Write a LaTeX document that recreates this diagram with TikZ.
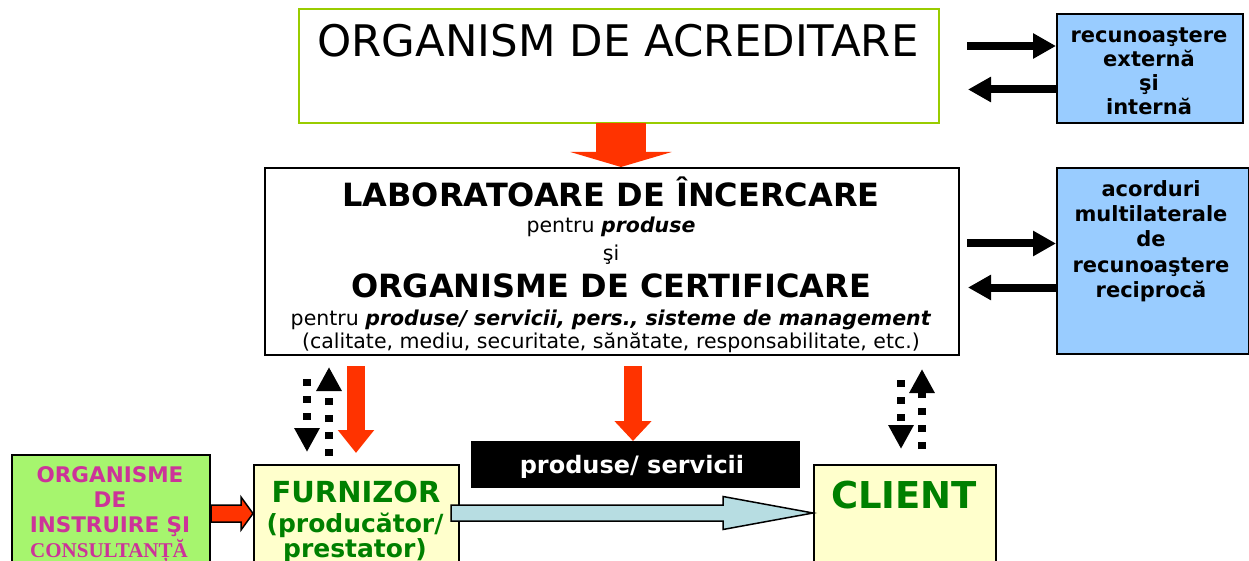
\documentclass[tikz,border=0pt]{standalone}
\usepackage{fontspec}
\setmainfont{DejaVu Sans}
\newfontfamily\timesfont{Liberation Serif}
\usetikzlibrary{arrows.meta, calc, positioning}

\definecolor{acrgreen}{HTML}{99CC00}
\definecolor{boxblue}{HTML}{99CCFF}
\definecolor{arrowred}{HTML}{FF3300}
\definecolor{traingreen}{HTML}{A6F56E}
\definecolor{trainmagenta}{HTML}{CC3399}
\definecolor{paleyellow}{HTML}{FFFFCC}
\definecolor{darkgreentext}{HTML}{008000}
\definecolor{flowblue}{HTML}{B7DDE2}

\tikzset{
    box/.style={draw, line width=2pt, inner sep=0pt, anchor=north west},
    blackarrow/.style={line width=8pt, -{Triangle[length=23pt, width=24pt]}},
    dotarrow/.style={line width=8pt, dash pattern=on 7pt off 10pt,
        -{Triangle[length=24pt, width=24pt]}},
    redarrow/.style={arrowred, line width=18pt, -{Triangle[length=23pt, width=35pt]}},
    blockline/.style={draw=black, line width=1.5pt, line join=miter},
    acrtext/.style={font=\fontsize{43.5}{50}\selectfont},
    labtitle/.style={font=\bfseries\fontsize{32}{36}\selectfont},
    labline/.style={font=\fontsize{20.5}{24}\selectfont},
    bluetext/.style={font=\bfseries\fontsize{21}{25}\selectfont},
    traintext/.style={text=trainmagenta, font=\bfseries\fontsize{21.5}{25}\selectfont},
    furntext/.style={text=darkgreentext, font=\bfseries\fontsize{25}{28}\selectfont}
}

\begin{document}
\begin{tikzpicture}[x=1pt, y=-1pt, inner sep=0pt]
    \useasboundingbox (0,0) rectangle (1249,561);

    % boxes
    \node[box, draw=acrgreen, minimum width=640pt, minimum height=114pt] (acr) at (298,8) {};
    \node[box, fill=boxblue, minimum width=186pt, minimum height=109pt] (rec) at (1056,13) {};
    \node[box, minimum width=694pt, minimum height=187pt] (lab) at (264,167) {};
    \node[box, fill=boxblue, minimum width=192pt, minimum height=186pt] (mra) at (1056,167) {};
    \node[box, fill=black, minimum width=327pt, minimum height=45pt] (prod) at (471,441) {};
    \node[box, fill=traingreen, minimum width=198pt, minimum height=150pt] (instr) at (11,454) {};
    \node[box, fill=paleyellow, minimum width=205pt, minimum height=140pt] (furn) at (253,464) {};
    \node[box, fill=paleyellow, minimum width=182pt, minimum height=140pt] (client) at (813,464) {};

    % texts
    \node[acrtext, anchor=base] (acrname) at (618,57) {ORGANISM DE ACREDITARE};
    \foreach \word [count=\i] in {recunoaştere, externă, şi, internă}
        \node[bluetext, anchor=base] (rec\i) at (1149,19+24*\i) {\word};
    \foreach \word [count=\i] in {acorduri, multilaterale, de, recunoaştere, reciprocă}
        \node[bluetext, anchor=base] (mra\i) at (1151,172+25*\i) {\word};

    \node[labtitle, anchor=base] (lab1) at (611,207) {LABORATOARE DE ÎNCERCARE};
    \node[labline, anchor=base] (lab2) at (611,233) {pentru \textbf{\textit{produse}}};
    \node[labline, anchor=base] (lab3) at (611,260) {şi};
    \node[labtitle, anchor=base] (lab4) at (611,297) {ORGANISME DE CERTIFICARE};
    \node[labline, anchor=base] (lab5) at (611,325)
        {pentru \textbf{\textit{produse/ servicii, pers., sisteme de management}}};
    \node[labline, anchor=base] (lab6) at (611,348)
        {(calitate, mediu, securitate, sănătate, responsabilitate, etc.)};

    \node[anchor=base, text=white, font=\bfseries\fontsize{24}{28}\selectfont] (prodtext)
        at (632,473) {produse/ servicii};

    \foreach \word [count=\i] in {ORGANISME, DE, INSTRUIRE ŞI}
        \node[traintext, anchor=base] (instr\i) at (110,457+25*\i) {\word};
    \node[anchor=base, text=trainmagenta, font=\timesfont\bfseries\fontsize{21}{25}\selectfont]
        (instr4) at (109,557) {CONSULTANȚĂ};

    \node[furntext, font=\bfseries\fontsize{29}{32}\selectfont, anchor=base] (furn1) at (356,502) {FURNIZOR};
    \node[furntext, anchor=base] (furn2) at (355,532) {(producător/};
    \node[furntext, anchor=base] (furn3) at (355,557) {prestator)};
    \node[anchor=base, text=darkgreentext, font=\bfseries\fontsize{37}{40}\selectfont] (clientname)
        at (904,508) {CLIENT};

    % accreditation -> laboratories
    \coordinate (redtop) at ($(acr.south)+(2,-1)$);
    \draw[arrowred, line width=50pt, -{Triangle[length=15pt, width=101pt]}]
        (redtop) -- (redtop |- lab.north);

    % arrows to the recognition boxes
    \coordinate (r1) at (967,46);
    \coordinate (r2) at (968,89.5);
    \coordinate (r3) at (967,243.5);
    \coordinate (r4) at (968,287.5);
    \draw[blackarrow] (r1) -- (r1 -| rec.west);
    \draw[blackarrow] (r2 -| rec.west) -- (r2);
    \draw[blackarrow] (r3) -- (r3 -| mra.west);
    \draw[blackarrow] (r4 -| mra.west) -- (r4);

    % laboratories <-> supplier, client
    \coordinate (dl) at (307,0);
    \coordinate (ul) at (329,0);
    \coordinate (rl) at (356,0);
    \coordinate (mr) at (633,0);
    \coordinate (dr) at (901,0);
    \coordinate (ur) at (922,0);
    \draw[dotarrow, shorten <=23pt, shorten >=12pt] (lab.south -| dl) -- (furn.north -| dl);
    \draw[dotarrow, shorten <=8pt, shorten >=11pt] (furn.north -| ul) -- (lab.south -| ul);
    \draw[redarrow, shorten <=10pt, shorten >=11pt] (lab.south -| rl) -- (furn.north -| rl);
    \draw[redarrow, -{Triangle[length=20pt, width=36pt]}, shorten <=10pt] (lab.south -| mr) -- (prod.north -| mr);
    \draw[dotarrow, shorten <=24pt, shorten >=15pt] (lab.south -| dr) -- (client.north -| dr);
    \draw[dotarrow, shorten <=15pt, shorten >=13pt] (client.north -| ur) -- (lab.south -| ur);

    % training -> supplier
    \coordinate (fa) at ($(instr.north east)+(0,59.5)$);
    \coordinate (fb) at (fa -| furn.west);
    \draw[blockline, fill=arrowred] ($(fa)+(0,-8.5)$) -- ($(fb)+(-12,-8.5)$)
        -- ($(fb)+(-12,-16.5)$) -- (fb) -- ($(fb)+(-12,16.5)$)
        -- ($(fb)+(-12,8.5)$) -- ($(fa)+(0,8.5)$) -- cycle;

    % supplier -> client
    \coordinate (ba) at ($(furn.north east)+(-9,49)$);
    \coordinate (bb) at (ba -| client.west);
    \draw[blockline, fill=flowblue] ($(ba)+(0,-8)$) -- ($(bb)+(-90,-8)$)
        -- ($(bb)+(-90,-16.5)$) -- (bb) -- ($(bb)+(-90,16.5)$)
        -- ($(bb)+(-90,8)$) -- ($(ba)+(0,8)$) -- cycle;
\end{tikzpicture}
\end{document}
